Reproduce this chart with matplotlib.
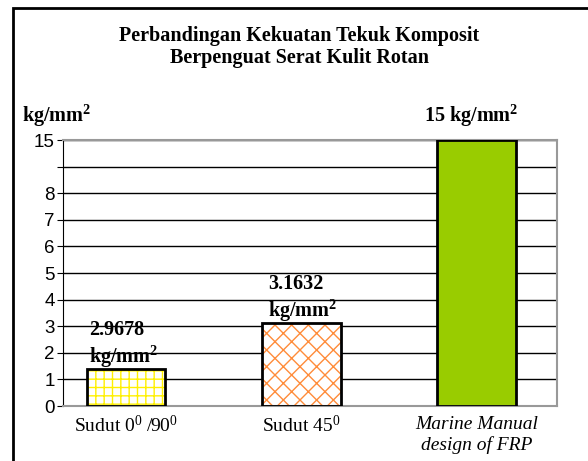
import numpy as np
import matplotlib
matplotlib.use("Agg")
import matplotlib.pyplot as plt
from matplotlib.patches import Rectangle

# data (drawn heights on the chart's own axis scale)
categories = ["Sudut 0$^{0}$ /90$^{0}$", "Sudut 45$^{0}$", "Marine Manual\ndesign of FRP"]
bar_heights = [1.39, 3.12, 10.0]
value_labels = ["2.9678\nkg/mm$^{\\mathbf{2}}$", "3.1632\nkg/mm$^{\\mathbf{2}}$", "15 kg/mm$^{\\mathbf{2}}$"]
tick_pos = [0, 1, 2, 3, 4, 5, 6, 7, 8, 9, 10]
tick_labels = ["0", "1", "2", "3", "4", "5", "6", "7", "8", "", "15"]

plt.rcParams["mathtext.fontset"] = "custom"
plt.rcParams["mathtext.rm"] = "Liberation Serif"
plt.rcParams["mathtext.it"] = "Liberation Serif:italic"
plt.rcParams["mathtext.bf"] = "Liberation Serif:bold"
plt.rcParams["hatch.linewidth"] = 1.0

W, H = 588, 461
fig = plt.figure(figsize=(W / 100, H / 100), dpi=100)
ax = fig.add_axes([63 / W, 1 - 406 / H, (557 - 63) / W, (406 - 140) / H])

x = np.arange(len(categories))
width = 0.45
fills = ["white", "white", "#99CC00"]
hatches = ["++", "xx", None]
hatch_colors = ["#FFF000", "#FF8C3A", "#99CC00"]

for i in range(len(categories)):
    ax.bar(x[i], bar_heights[i], width, color=fills[i], hatch=hatches[i],
           edgecolor=hatch_colors[i], linewidth=0, zorder=2)
    ax.bar(x[i], bar_heights[i], width, color="none", edgecolor="black",
           linewidth=2, zorder=3)

ax.set_xlim(-0.36, 2.46)
ax.set_ylim(0, 10)
ax.set_yticks(tick_pos)
ax.set_yticklabels(tick_labels, fontsize=13.5, family="Liberation Sans")
ax.set_xticks([])
ax.yaxis.grid(True, color="black", linewidth=1)
ax.set_axisbelow(True)
ax.tick_params(axis="y", length=4, direction="out", pad=2)

for s in ["top", "right", "bottom"]:
    ax.spines[s].set_color("#999999")
    ax.spines[s].set_linewidth(1.5)
ax.spines["left"].set_color("black")

# category labels (baseline of last line)
cat_y = [-0.98, -0.98, -1.65]
for i, c in enumerate(categories):
    style = "italic" if i == 2 else "normal"
    ax.text(x[i], cat_y[i], c, ha="center", va="baseline", fontsize=14,
            family="Liberation Serif", style=style, linespacing=1.25)

# value labels (baseline of last line)
bold = dict(fontsize=14.5, family="Liberation Serif", weight="bold", va="baseline", linespacing=1.2)
ax.text(x[0] - 0.21, 1.62, value_labels[0], ha="left", **bold)
ax.text(x[1] - 0.19, 3.35, value_labels[1], ha="left", **bold)
ax.text(x[2] - 0.03, 10.68, value_labels[2], ha="center", **bold)

fig.text(22 / W, 1 - 122 / H, "kg/mm$^{\\mathbf{2}}$", ha="left", va="baseline",
         fontsize=14.5, family="Liberation Serif", weight="bold")
fig.text(299 / W, 1 - 63 / H, "Perbandingan Kekuatan Tekuk Komposit\nBerpenguat Serat Kulit Rotan",
         ha="center", va="baseline", fontsize=14.5, family="Liberation Serif",
         weight="bold", linespacing=1.12)

# outer frame
fig.patches.append(Rectangle((13 / W, -0.1), 1.2, 1 - 8 / H + 0.1, transform=fig.transFigure,
                             fill=False, edgecolor="black", linewidth=2))

fig.savefig("out.png", dpi=100)
